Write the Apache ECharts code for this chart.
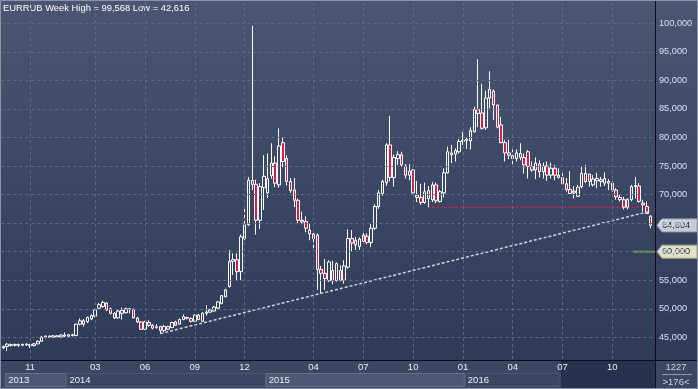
<!DOCTYPE html>
<html><head><meta charset="utf-8">
<script src="https://cdn.jsdelivr.net/npm/echarts@6/dist/echarts.min.js"></script>
<style>
html,body{margin:0;padding:0;}
#c{width:698px;height:389px;background:linear-gradient(to bottom,#4a5672 0%,#3a4764 50%,#2c3a57 100%);}
</style>
</head><body><div id="c"></div>
<script>
const title = 'EURRUB Week High = 99,568 Low = 42,616';
const weeks = ['2013-09-16','2013-09-23','2013-09-30','2013-10-07','2013-10-14','2013-10-21','2013-10-28','2013-11-04','2013-11-11','2013-11-18','2013-11-25','2013-12-02','2013-12-09','2013-12-16','2013-12-23','2013-12-30',
'2014-01-06','2014-01-13','2014-01-20','2014-01-27','2014-02-03','2014-02-10','2014-02-17','2014-02-24','2014-03-03','2014-03-10','2014-03-17','2014-03-24','2014-03-31','2014-04-07','2014-04-14','2014-04-21','2014-04-28','2014-05-05','2014-05-12','2014-05-19','2014-05-26','2014-06-02','2014-06-09','2014-06-16','2014-06-23','2014-06-30','2014-07-07','2014-07-14','2014-07-21','2014-07-28','2014-08-04','2014-08-11','2014-08-18','2014-08-25','2014-09-01','2014-09-08','2014-09-15','2014-09-22','2014-09-29','2014-10-06','2014-10-13','2014-10-20','2014-10-27','2014-11-03','2014-11-10','2014-11-17','2014-11-24','2014-12-01','2014-12-08','2014-12-15','2014-12-22','2014-12-29',
'2015-01-05','2015-01-12','2015-01-19','2015-01-26','2015-02-02','2015-02-09','2015-02-16','2015-02-23','2015-03-02','2015-03-09','2015-03-16','2015-03-23','2015-03-30','2015-04-06','2015-04-13','2015-04-20','2015-04-27','2015-05-04','2015-05-11','2015-05-18','2015-05-25','2015-06-01','2015-06-08','2015-06-15','2015-06-22','2015-06-29','2015-07-06','2015-07-13','2015-07-20','2015-07-27','2015-08-03','2015-08-10','2015-08-17','2015-08-24','2015-08-31','2015-09-07','2015-09-14','2015-09-21','2015-09-28','2015-10-05','2015-10-12','2015-10-19','2015-10-26','2015-11-02','2015-11-09','2015-11-16','2015-11-23','2015-11-30','2015-12-07','2015-12-14','2015-12-21','2015-12-28',
'2016-01-04','2016-01-11','2016-01-18','2016-01-25','2016-02-01','2016-02-08','2016-02-15','2016-02-22','2016-02-29','2016-03-07','2016-03-14','2016-03-21','2016-03-28','2016-04-04','2016-04-11','2016-04-18','2016-04-25','2016-05-02','2016-05-09','2016-05-16','2016-05-23','2016-05-30','2016-06-06','2016-06-13','2016-06-20','2016-06-27','2016-07-04','2016-07-11','2016-07-18','2016-07-25','2016-08-01','2016-08-08','2016-08-15','2016-08-22','2016-08-29','2016-09-05','2016-09-12','2016-09-19','2016-09-26','2016-10-03','2016-10-10','2016-10-17','2016-10-24','2016-10-31','2016-11-07','2016-11-14','2016-11-21','2016-11-28','2016-12-05','2016-12-12'];

const open = [
43.15,43.40,43.70,43.60,43.75,43.60,43.70,43.75,43.55,43.85,
44.30,45.00,45.20,45.00,45.25,45.05,45.40,45.20,45.45,45.30,
47.30,47.90,47.70,48.20,48.70,50.10,50.40,51.00,50.00,49.20,
48.40,49.20,49.30,49.90,49.90,48.40,47.70,46.40,47.60,47.10,
46.75,46.90,46.20,46.90,46.70,47.70,47.30,48.10,48.35,48.30,
47.80,48.90,47.80,49.20,49.40,49.60,50.10,50.90,52.10,53.90,
58.30,58.60,56.50,62.30,64.70,72.50,71.80,65.50,71.20,70.30,
73.30,75.50,71.70,79.10,76.30,72.30,70.80,69.00,65.50,65.30,
63.80,63.10,62.90,56.90,56.20,54.90,56.70,54.90,56.70,55.00,
57.30,62.30,62.00,60.90,61.80,62.70,61.60,64.10,67.90,70.20,
72.10,78.70,73.00,76.30,77.00,75.00,73.40,74.30,69.90,69.50,
68.60,70.70,69.10,71.70,68.80,70.30,73.80,77.30,77.10,77.50,
79.30,79.50,79.40,81.00,84.90,84.30,81.70,86.90,88.10,85.70,
82.20,79.10,77.30,76.80,76.30,77.20,76.50,77.50,74.90,74.30,
75.40,74.00,75.00,73.40,74.60,73.40,73.00,71.90,70.90,70.60,
69.70,71.40,73.70,73.60,71.70,72.40,72.30,72.00,72.30,72.00,
70.80,69.50,69.10,67.80,69.10,71.40,71.50,68.50,67.90,66.20];

const close = [
43.40,43.80,43.60,43.75,43.60,43.75,43.80,43.55,43.85,44.30,
45.05,45.20,45.00,45.25,45.05,45.40,45.20,45.45,45.30,47.30,
47.90,47.30,48.50,48.80,49.80,50.70,51.10,49.80,49.20,48.40,
49.60,49.70,50.00,50.00,48.40,47.70,46.40,47.70,47.10,46.60,
46.85,46.20,46.90,46.40,47.60,47.10,48.10,48.60,48.45,47.80,
48.90,48.10,49.20,49.40,49.80,50.30,51.20,52.30,53.30,58.30,
58.60,56.50,62.60,64.70,72.50,71.80,65.50,71.40,73.20,72.80,
75.50,72.00,78.50,75.80,72.30,70.70,69.00,65.50,65.20,64.10,
63.10,62.30,56.90,56.20,55.30,58.20,54.90,57.90,55.00,57.50,
62.30,61.50,61.20,62.20,62.90,61.60,64.10,67.90,70.30,72.30,
78.70,73.00,76.50,77.00,75.20,73.40,74.10,70.30,69.50,68.60,
70.50,69.30,71.70,68.90,70.50,73.80,77.50,77.00,77.70,79.30,
79.50,79.70,81.20,84.90,84.20,81.60,86.90,88.40,85.70,81.80,
79.10,77.30,76.90,76.30,77.30,76.50,75.20,74.90,74.30,75.50,
74.00,75.00,73.40,74.60,73.40,73.00,71.90,70.90,70.20,70.30,
71.30,73.70,72.30,72.30,72.70,72.80,72.60,72.80,72.00,70.80,
69.60,69.10,67.80,69.20,71.40,71.60,68.80,68.20,66.70,64.604];

const low = [
43.00,42.616,43.40,43.40,43.30,43.45,43.50,43.10,43.40,43.80,
44.20,44.80,44.85,44.90,44.90,44.95,45.05,45.05,45.15,45.25,
47.10,46.90,47.50,48.00,48.50,50.00,50.20,49.60,49.00,48.20,
48.30,48.10,49.20,49.20,48.30,47.50,46.30,46.30,46.80,46.40,
46.50,45.60,45.90,46.30,46.60,47.00,47.20,48.00,48.10,47.60,
47.70,48.00,47.70,48.80,49.30,49.50,50.00,50.80,52.00,53.70,
55.90,55.00,55.00,62.00,64.50,70.80,63.00,64.00,67.30,69.40,
72.80,71.30,71.20,74.80,71.60,70.30,67.80,65.00,64.80,63.40,
62.00,60.60,53.30,52.70,53.30,54.70,54.30,54.80,54.80,54.40,
57.00,60.00,60.30,60.30,61.50,61.30,60.80,63.80,67.50,69.80,
71.50,72.30,71.40,75.20,74.90,72.80,72.50,70.20,68.70,68.20,
68.40,67.77,68.70,68.50,68.60,69.50,73.70,75.50,75.80,77.20,
78.70,78.00,77.90,80.90,81.80,81.40,81.30,85.10,83.10,81.60,
79.00,75.80,76.20,75.20,75.80,76.00,73.70,72.80,74.00,72.70,
73.00,72.80,72.40,72.80,72.50,72.80,71.70,70.50,70.10,69.30,
69.60,71.10,72.00,71.40,71.40,71.10,71.40,71.50,70.80,70.50,
69.10,68.80,67.40,67.40,68.80,69.30,68.60,67.00,66.60,64.10];

const high = [
43.55,44.00,43.90,43.90,43.90,43.90,44.00,43.85,44.00,44.45,
45.20,45.35,45.35,45.40,45.35,45.50,45.85,45.55,45.60,47.40,
48.30,48.20,48.60,49.00,50.00,51.00,51.40,51.10,50.20,49.40,
49.80,50.20,50.20,50.10,50.00,48.60,47.80,47.90,48.00,47.30,
47.30,47.00,47.20,47.00,47.70,47.90,48.30,49.00,48.60,48.50,
49.00,49.10,49.40,50.60,50.00,50.50,51.30,52.40,53.50,60.30,
59.70,59.70,63.00,67.90,73.10,99.568,72.60,72.00,76.90,77.20,
79.00,76.70,81.60,80.00,76.90,72.90,72.90,69.30,67.00,66.20,
64.90,63.70,63.20,57.50,58.70,58.50,58.40,58.10,57.60,58.50,
63.90,63.80,62.60,62.50,63.80,63.20,64.80,68.30,70.80,72.60,
79.00,83.80,77.00,77.60,77.50,75.30,75.30,74.50,72.40,71.90,
72.10,71.50,72.20,72.10,70.80,74.60,78.40,78.70,78.10,79.70,
81.00,80.00,81.80,85.40,93.70,89.40,88.20,91.60,88.40,85.70,
83.60,79.60,79.60,77.90,77.90,79.00,77.20,77.80,75.80,76.50,
76.00,75.60,75.80,75.60,75.20,74.60,74.30,72.90,74.10,71.50,
71.70,74.90,75.20,73.60,73.40,73.80,73.10,73.90,72.70,72.30,
71.10,69.90,69.60,69.30,71.70,73.10,72.00,69.10,68.80,66.40];

const tickMonths = ['2013-11','2014-03','2014-06','2014-09','2014-12','2015-04','2015-07','2015-10','2016-01','2016-04','2016-07','2016-10'];
const years = ['2013','2014','2015','2016'];
const yTicks = [45,50,55,60,65,70,75,80,85,90,95,100];
const lastPrice = 64.604;
const alertLevel = 60.0;
const supportLevel = 67.77;
const supportFrom = '2015-11-02';
const trendStart = ['2014-06-30', 45.65];
const trendEnd = ['2016-12-12', 67.1];
const shadedFrom = '2016-07-04';
const barCountLabel = '>176<';
const cornerLabel = '1227';

const chart = echarts.init(document.getElementById('c'), null, {renderer: 'canvas', width: 698, height: 389});
const candles = weeks.map((w, i) => [open[i], close[i], low[i], high[i]]);
const firstIdxOf = p => weeks.findIndex(w => w.startsWith(p));
const tickIdx = new Set(tickMonths.map(firstIdxOf));
const shadeIdx = weeks.indexOf(shadedFrom);
const FONT = "'Liberation Sans',Arial,sans-serif";
const fmt = v => v.toFixed(3).replace('.', ',');

const option = {
  animation: false,
  backgroundColor: 'transparent',
  grid: {left: 1.4, right: 45.5, top: 2, bottom: 29, containLabel: false},
  xAxis: {
    type: 'category', data: weeks, boundaryGap: true, z: 10,
    axisLine: {show: false}, axisTick: {show: false},
    axisLabel: {
      interval: (i) => tickIdx.has(i),
      formatter: v => v.slice(5, 7),
      fontFamily: FONT, fontSize: 9.5, margin: 2,
      color: (v, i) => (i >= shadeIdx ? '#76829b' : '#e8eef6')
    },
    splitLine: {show: true, interval: (i) => tickIdx.has(i), alignWithLabel: true,
      lineStyle: {color: '#5d6a86', type: [3, 3], width: 1}}
  },
  yAxis: {
    type: 'value', position: 'right', min: 41.024, max: 103.731, offset: 2.5, z: 10,
    axisLine: {show: false},
    axisTick: {show: false, customValues: yTicks},
    axisLabel: {customValues: yTicks, formatter: fmt, fontFamily: FONT, fontSize: 9.2, color: '#d5e2f3', margin: 4},
    splitLine: {show: true, lineStyle: {color: '#5d6a86', type: [3, 3], width: 1}}
  },
  series: [
    {
      type: 'candlestick', data: candles, barWidth: 3, z: 3,
      itemStyle: {color: 'rgba(0,0,0,0)', color0: '#e0184a', borderColor: '#ffffff', borderColor0: '#ffffff', borderWidth: 1}
    },
    {
      type: 'line', name: 'trend', data: [trendStart, trendEnd], symbol: 'none', silent: true, z: 4,
      lineStyle: {color: '#cfd3da', type: [3, 2], width: 1.5}
    },
    {
      type: 'line', name: 'support', data: [[supportFrom, supportLevel], [weeks[weeks.length - 1], supportLevel]],
      symbol: 'none', silent: true, z: 2,
      lineStyle: {color: '#e0203e', type: [2, 2], width: 1.2}
    }
  ]
};
chart.setOption(option);

const px = i => chart.convertToPixel({xAxisIndex: 0}, weeks[i]);
const py = v => chart.convertToPixel({yAxisIndex: 0}, v);
const bw = px(1) - px(0);
const g = [];
g.push({type: 'rect', shape: {x: 0, y: 360, width: 698, height: 29}, style: {fill: '#3c4863'}, z: 1});
const starts = years.map(y => px(firstIdxOf(y)) + bw / 2);
const shadeX = px(shadeIdx) - bw / 2;
years.forEach((y, k) => {
  const x0 = starts[k];
  const x1 = k + 1 < years.length ? starts[k + 1] : shadeX;
  const odd = k % 2 === 1;
  g.push({type: 'rect', shape: {x: x0 + 0.5, y: 373.5, width: x1 - x0 - 1, height: 13},
    style: {fill: odd ? '#3c4863' : '#4c5874', stroke: odd ? '#4a5672' : '#66728c', lineWidth: 1}, z: 2});
  g.push({type: 'text', style: {x: x0 + 3, y: 380.5, text: y, fill: '#e8eef6', font: '9.5px ' + FONT, textVerticalAlign: 'middle'}, z: 3});
});
g.push({type: 'rect', shape: {x: shadeX, y: 361, width: 655 - shadeX, height: 28}, style: {fill: '#27334e'}, z: 1.5});
g.push({type: 'line', shape: {x1: 0, y1: 360.5, x2: 698, y2: 360.5}, style: {stroke: '#0c0f18', lineWidth: 1}, z: 5});
g.push({type: 'line', shape: {x1: 655.5, y1: 0, x2: 655.5, y2: 389}, style: {stroke: '#0c0f18', lineWidth: 1}, z: 5});
// price tags
const yl = py(lastPrice), ya = py(alertLevel);
g.push({type: 'polygon', shape: {points: [[657, yl], [662, yl - 6.5], [697, yl - 6.5], [697, yl + 6.5], [662, yl + 6.5]]}, style: {fill: '#c7cbd3', stroke: '#9aa1ad'}, z: 6});
g.push({type: 'text', style: {x: 662, y: yl, text: fmt(lastPrice), fill: '#1c2333', font: '9.2px ' + FONT, textVerticalAlign: 'middle'}, z: 7});
g.push({type: 'line', shape: {x1: 633, y1: ya, x2: 655, y2: ya}, style: {stroke: '#6e9b48', lineWidth: 2}, z: 6});
g.push({type: 'polygon', shape: {points: [[657, ya], [662, ya - 6.5], [697, ya - 6.5], [697, ya + 6.5], [662, ya + 6.5]]}, style: {fill: '#e4e1c3', stroke: '#a9a68c'}, z: 6});
g.push({type: 'text', style: {x: 662, y: ya, text: fmt(alertLevel), fill: '#1c2333', font: '9.2px ' + FONT, textVerticalAlign: 'middle'}, z: 7});
// header & corner
g.push({type: 'text', style: {x: 3, y: 4, text: title, fill: '#ffffff', font: '9.4px ' + FONT, textVerticalAlign: 'top'}, z: 7});
g.push({type: 'text', style: {x: 676, y: 367, text: cornerLabel, fill: '#c9d3e2', font: '9.5px ' + FONT, textAlign: 'center', textVerticalAlign: 'middle'}, z: 7});
g.push({type: 'line', shape: {x1: 662, y1: 374.5, x2: 692, y2: 374.5}, style: {stroke: '#8c98ae', lineWidth: 1}, z: 7});
g.push({type: 'text', style: {x: 676, y: 382, text: barCountLabel, fill: '#c9d3e2', font: '9.5px ' + FONT, textAlign: 'center', textVerticalAlign: 'middle'}, z: 7});
g.push({type: 'rect', shape: {x: 0.5, y: 0.5, width: 697, height: 388}, style: {fill: 'none', stroke: '#8a94a8', lineWidth: 1}, z: 8});
chart.setOption({graphic: g});
</script>
</body></html>
